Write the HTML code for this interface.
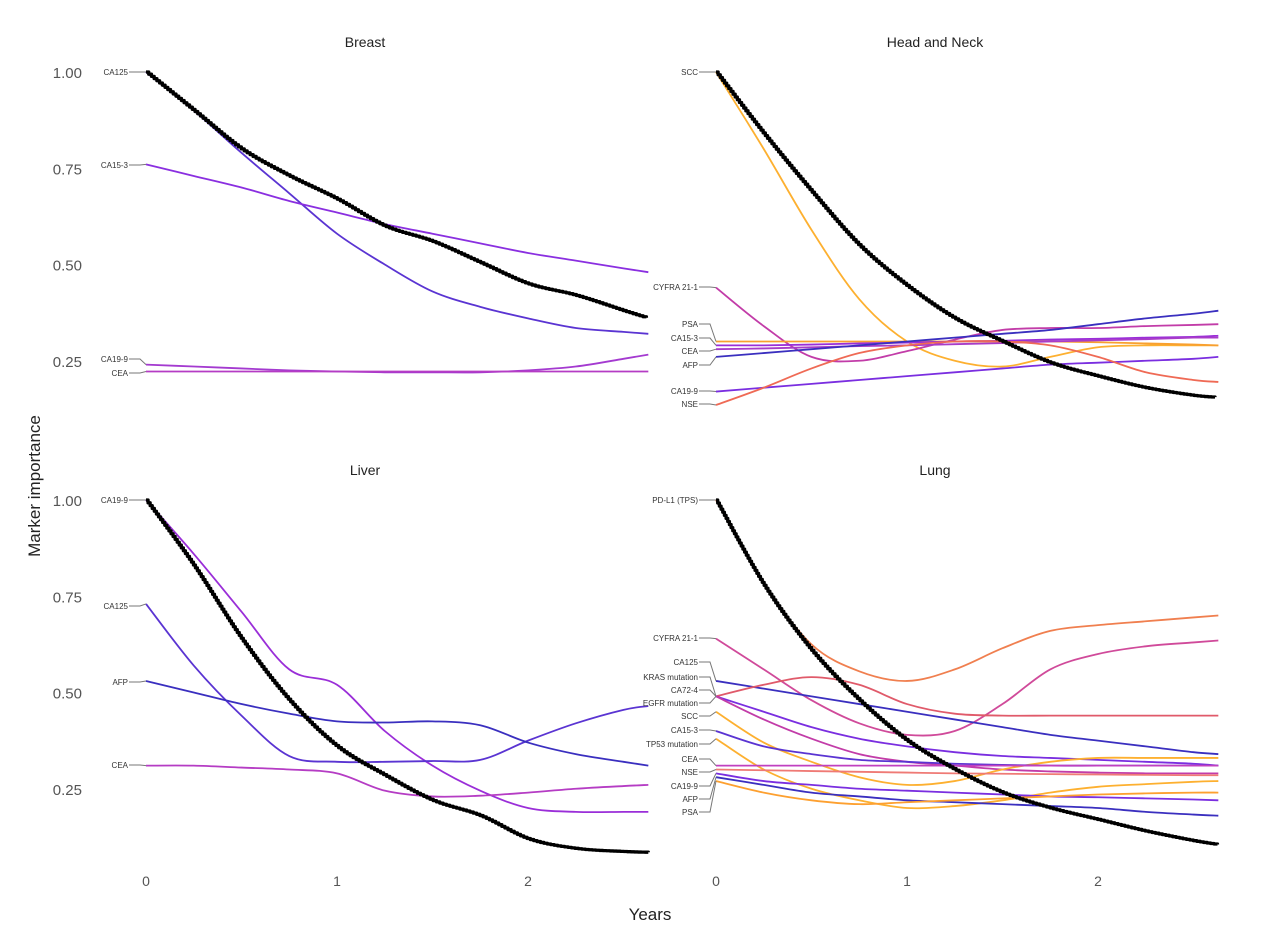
<!DOCTYPE html>
<html><head><meta charset="utf-8"><style>
body{margin:0;background:#fff;}
svg{display:block;font-family:"Liberation Sans",sans-serif;}
</style></head><body>
<svg id="chart" width="1270" height="932"></svg>
<script>
const times=[0,0.25,0.5,0.75,1,1.25,1.5,1.75,2,2.25,2.5,2.63];
const yTicks=[1.00,0.75,0.50,0.25];
const xTicks=[0,1,2];
const panelTitles=["Breast","Head and Neck","Liver","Lung"];
// Breast
const breastLabels=["CA125","CA15-3","CA19-9","CEA"];
const breastLabelY=[72,165,359,373];
const breastColors=["#5a34d2","#8a2fe0","#a43ad0","#b53cc4"];
const breastSeries=[
[1,0.9,0.79,0.685,0.58,0.5,0.43,0.39,0.36,0.335,0.325,0.32],
[0.76,0.73,0.7,0.665,0.635,0.605,0.58,0.555,0.53,0.51,0.49,0.48],
[0.24,0.235,0.23,0.225,0.222,0.22,0.22,0.22,0.225,0.235,0.255,0.266],
[0.222,0.222,0.222,0.222,0.222,0.222,0.222,0.222,0.222,0.222,0.222,0.222]];
const breastBlack=[1,0.9,0.8,0.73,0.67,0.6,0.56,0.505,0.45,0.42,0.38,0.36];
// Head and Neck
const hnLabels=["SCC","CYFRA 21-1","PSA","CA15-3","CEA","AFP","CA19-9","NSE"];
const hnLabelY=[72,287,324,338,351,365,391,404];
const hnColors=["#fdb030","#c23ca8","#f8a030","#9a2ed8","#a83cc8","#3a2fbf","#7a2ee0","#ef6a55"];
const hnSeries=[
[1,0.8,0.59,0.41,0.3,0.25,0.235,0.26,0.285,0.29,0.29,0.29],
[0.44,0.34,0.26,0.25,0.275,0.305,0.33,0.335,0.335,0.34,0.343,0.345],
[0.3,0.3,0.3,0.3,0.3,0.3,0.3,0.3,0.298,0.295,0.292,0.29],
[0.29,0.29,0.292,0.295,0.297,0.3,0.302,0.305,0.307,0.31,0.312,0.315],
[0.28,0.282,0.285,0.288,0.29,0.293,0.296,0.3,0.303,0.306,0.31,0.31],
[0.26,0.27,0.28,0.29,0.3,0.31,0.32,0.33,0.345,0.36,0.372,0.38],
[0.17,0.18,0.19,0.2,0.21,0.22,0.23,0.24,0.245,0.25,0.255,0.26],
[0.135,0.18,0.23,0.27,0.29,0.3,0.3,0.29,0.26,0.22,0.2,0.195]];
const hnBlack=[1,0.84,0.69,0.55,0.445,0.36,0.3,0.245,0.21,0.18,0.16,0.155];
// Liver
const liverLabels=["CA19-9","CA125","AFP","CEA"];
const liverLabelY=[500,606,682,765];
const liverColors=["#9a2ed8","#5a34d2","#3a2fbf","#b53cc4"];
const liverSeries=[
[1,0.86,0.71,0.56,0.52,0.4,0.31,0.245,0.2,0.19,0.19,0.19],
[0.73,0.57,0.44,0.335,0.32,0.32,0.322,0.325,0.375,0.42,0.455,0.465],
[0.53,0.5,0.47,0.445,0.425,0.422,0.425,0.415,0.37,0.34,0.32,0.31],
[0.31,0.31,0.305,0.3,0.29,0.245,0.23,0.232,0.24,0.25,0.257,0.26]];
const liverBlack=[1,0.83,0.64,0.48,0.36,0.285,0.22,0.18,0.12,0.095,0.087,0.085];
// Lung
const lungLabels=["PD-L1 (TPS)","CYFRA 21-1","CA125","KRAS mutation","CA72-4","EGFR mutation","SCC","CA15-3","TP53 mutation","CEA","NSE","CA19-9","AFP","PSA"];
const lungLabelY=[500,638,662,677,690,703,716,730,744,759,772,786,799,812];
const lungColors=["#f07f4f","#d04a9a","#3a2fbf","#e05a6a","#7a2ee0","#c23ca8","#fdb030","#5a34d2","#fdb030","#c040c0","#ef7a75","#7a2ee0","#3a2fbf","#fda030"];
const lungSeries=[
[1,0.785,0.625,0.555,0.53,0.56,0.615,0.66,0.675,0.685,0.695,0.7],
[0.64,0.56,0.48,0.42,0.39,0.4,0.47,0.56,0.6,0.62,0.63,0.635],
[0.53,0.51,0.49,0.47,0.45,0.43,0.41,0.39,0.375,0.36,0.345,0.34],
[0.49,0.52,0.54,0.52,0.47,0.445,0.44,0.44,0.44,0.44,0.44,0.44],
[0.49,0.45,0.41,0.38,0.36,0.345,0.335,0.33,0.325,0.32,0.315,0.31],
[0.49,0.43,0.38,0.34,0.32,0.31,0.3,0.295,0.292,0.29,0.29,0.29],
[0.45,0.37,0.32,0.28,0.26,0.27,0.3,0.32,0.33,0.33,0.33,0.33],
[0.4,0.36,0.34,0.325,0.32,0.315,0.312,0.31,0.31,0.31,0.31,0.31],
[0.38,0.3,0.25,0.22,0.2,0.205,0.22,0.24,0.255,0.262,0.268,0.27],
[0.31,0.31,0.31,0.31,0.31,0.31,0.31,0.31,0.31,0.31,0.31,0.31],
[0.3,0.298,0.296,0.294,0.292,0.29,0.289,0.288,0.287,0.286,0.285,0.285],
[0.29,0.27,0.26,0.25,0.245,0.24,0.235,0.23,0.228,0.225,0.222,0.22],
[0.28,0.26,0.24,0.23,0.22,0.215,0.21,0.205,0.2,0.19,0.183,0.18],
[0.27,0.24,0.22,0.21,0.215,0.22,0.225,0.23,0.235,0.238,0.24,0.24]];
const lungBlack=[1,0.78,0.61,0.48,0.375,0.3,0.24,0.2,0.17,0.14,0.115,0.105];

const NS="http://www.w3.org/2000/svg";
const svg=document.getElementById('chart');
function mk(tag,attrs,parent){const e=document.createElementNS(NS,tag);for(const k in attrs)e.setAttribute(k,attrs[k]);(parent||svg).appendChild(e);return e;}
const panels=[
{x0:146,top:72,title:panelTitles[0],labels:breastLabels,ly:breastLabelY,colors:breastColors,series:breastSeries,black:breastBlack,tx:365},
{x0:716,top:72,title:panelTitles[1],labels:hnLabels,ly:hnLabelY,colors:hnColors,series:hnSeries,black:hnBlack,tx:935},
{x0:146,top:500,title:panelTitles[2],labels:liverLabels,ly:liverLabelY,colors:liverColors,series:liverSeries,black:liverBlack,tx:365},
{x0:716,top:500,title:panelTitles[3],labels:lungLabels,ly:lungLabelY,colors:lungColors,series:lungSeries,black:lungBlack,tx:935}];
function catmull(pts){let d="M"+pts[0][0]+","+pts[0][1];for(let i=0;i<pts.length-1;i++){const p0=pts[Math.max(0,i-1)],p1=pts[i],p2=pts[i+1],p3=pts[Math.min(pts.length-1,i+2)];d+=" C"+(p1[0]+(p2[0]-p0[0])/6)+","+(p1[1]+(p2[1]-p0[1])/6)+" "+(p2[0]-(p3[0]-p1[0])/6)+","+(p2[1]-(p3[1]-p1[1])/6)+" "+p2[0]+","+p2[1];}return d;}
panels.forEach((p,pi)=>{
  const X=t=>p.x0+t*191, Y=v=>p.top+(1-v)*385;
  const g=mk('g',{});
  
  
  const tt=mk('text',{x:p.tx,y:p.top-25,'text-anchor':'middle','font-size':14,fill:'#222'},g);tt.textContent=p.title;
  
  if(pi%2===0){yTicks.forEach(v=>{const t=mk('text',{x:82,y:Y(v)+6,'text-anchor':'end','font-size':15,fill:'#555'},g);t.textContent=v.toFixed(2);
    });}
  if(pi>=2){xTicks.forEach(v=>{const t=mk('text',{x:X(v),y:886,'text-anchor':'middle','font-size':14,fill:'#555'},g);t.textContent=v;
    });}
  p.series.forEach((s,si)=>{
    const pts=s.map((v,i)=>[X(times[i]),Y(v)]);
    const path=mk('path',{d:catmull(pts),fill:'none',stroke:p.colors[si],'stroke-width':1.8},g);
    
    
    const ly=p.ly[si];
    const lx=p.x0-18;
    const ld=mk('polyline',{points:(lx+1)+","+ly+" "+(p.x0-6)+","+ly+" "+pts[0][0]+","+pts[0][1],fill:'none',stroke:'#777','stroke-width':1},g);
    
    const lt=mk('text',{x:lx,y:ly+3,'text-anchor':'end','font-size':8,fill:'#333'},g);lt.textContent=p.labels[si];
    
  });
  const pts=p.black.map((v,i)=>[X(times[i]),Y(v)]);
  const tmp=mk('path',{d:catmull(pts),fill:'none'},g);
  const L=tmp.getTotalLength();let d="",prev=null;
  for(let l=0;l<=L;l+=3.5){const q=tmp.getPointAtLength(l);if(!prev)d="M"+q.x+","+q.y;else d+=" H"+q.x+" V"+q.y;prev=q;}
  tmp.remove();
  const bp=mk('path',{d:d,fill:'none',stroke:'#000','stroke-width':3.3,'stroke-linejoin':'round'},g);
  
});
const yt=mk('text',{x:40,y:486,'text-anchor':'middle','font-size':17,fill:'#222',transform:'rotate(-90 40 486)'});yt.textContent="Marker importance";

const xt=mk('text',{x:650,y:920,'text-anchor':'middle','font-size':17,fill:'#222'});xt.textContent="Years";

</script>
</body></html>
